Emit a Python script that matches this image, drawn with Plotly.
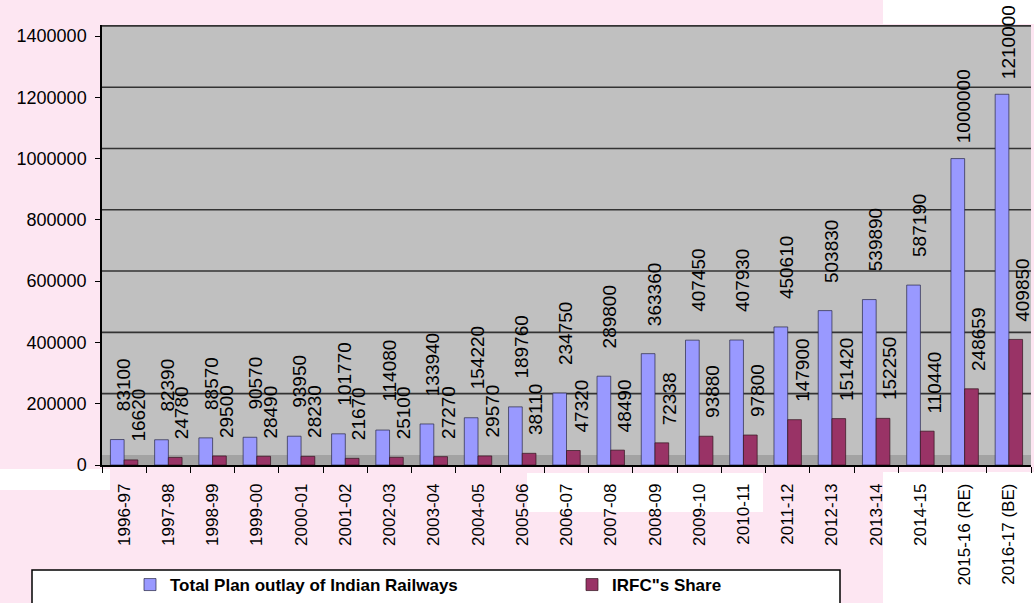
import plotly.graph_objects as go

# Plan outlay of Indian Railways vs IRFC's share (Rs. crore)
years = ["1996-97", "1997-98", "1998-99", "1999-00", "2000-01", "2001-02", "2002-03",
         "2003-04", "2004-05", "2005-06", "2006-07", "2007-08", "2008-09", "2009-10",
         "2010-11", "2011-12", "2012-13", "2013-14", "2014-15", "2015-16 (RE)", "2016-17 (BE)"]
total_outlay = [83100, 82390, 88570, 90570, 93950, 101770, 114080, 133940, 154220, 189760,
                234750, 289800, 363360, 407450, 407930, 450610, 503830, 539890, 587190,
                1000000, 1210000]
irfc_share = [16620, 24780, 29500, 28490, 28230, 21670, 25100, 27270, 29570, 38110,
              47320, 48490, 72338, 93880, 97800, 147900, 151420, 152250, 110440,
              248659, 409850]
y_ticks = [0, 200000, 400000, 600000, 800000, 1000000, 1200000, 1400000]

FONT = "Liberation Sans, Arial, sans-serif"
PINK = "#fde6f2"
BLUE = "#9999ff"
PLUM = "#993366"

W, H = 1034, 603
L, R, T, B = 102, 3, 25, 138
pw, ph = W - L - R, H - T - B


def px_x(p):
    return (p - L) / pw


def px_y(p):
    return (H - B - p) / ph


fig = go.Figure()
fig.add_trace(go.Bar(
    x=years, y=total_outlay, name="Total Plan outlay of Indian Railways",
    marker=dict(color=BLUE, line=dict(color="rgba(40,40,70,0.7)", width=1)),
))
fig.add_trace(go.Bar(
    x=years, y=irfc_share, name="IRFC\"s Share",
    marker=dict(color=PLUM, line=dict(color="rgba(50,20,30,0.7)", width=1)),
))

# value labels, rotated, floating above each bar;
# the tallest bars keep their labels closer so they stay on the page
annotations = []
for yr, tv, iv in zip(years, total_outlay, irfc_share):
    annotations.append(dict(x=yr, y=tv, text=str(tv), textangle=-90, showarrow=False,
                            xanchor="center", yanchor="bottom", xshift=-1,
                            yshift=26 if tv < 900000 else 13,
                            font=dict(family=FONT, size=19, color="black")))
    annotations.append(dict(x=yr, y=iv, text=str(iv), textangle=-90, showarrow=False,
                            xanchor="center", yanchor="bottom", xshift=14, yshift=16,
                            font=dict(family=FONT, size=19, color="black")))

# back wall of the 3-D look: floor band and raised gridlines
wall_lift = 33000
shapes = [dict(type="rect", xref="x domain", yref="y", x0=0, x1=1, y0=0, y1=wall_lift,
               fillcolor="#a3a3a3", line=dict(width=0), layer="below")]
for v in y_ticks[1:]:
    shapes.append(dict(type="line", xref="x domain", yref="y", x0=0, x1=1,
                       y0=v + wall_lift, y1=v + wall_lift,
                       line=dict(color="#333333", width=1.6), layer="below"))

# white patches of the page around the chart
for x0, x1, y0, y1 in [(883, W, 0, 24), (883, W, 472, H), (0, 110, 469, 490),
                       (527, 763, 473, 512)]:
    shapes.append(dict(type="rect", xref="paper", yref="paper",
                       x0=px_x(x0), x1=px_x(x1), y0=px_y(y1), y1=px_y(y0),
                       fillcolor="white", line=dict(width=0), layer="below"))

# legend frame
shapes.append(dict(type="rect", xref="paper", yref="paper",
                   x0=px_x(32), x1=px_x(840), y0=px_y(615), y1=px_y(570),
                   fillcolor="white", line=dict(color="black", width=1.5), layer="above"))

fig.update_layout(
    width=W, height=H, autosize=False,
    margin=dict(l=L, r=R, t=T, b=B, pad=0, autoexpand=False),
    paper_bgcolor=PINK, plot_bgcolor="#c0c0c0",
    barmode="group", bargap=0.38, bargroupgap=0,
    font=dict(family=FONT, size=17, color="black"),
    showlegend=True,
    legend=dict(orientation="h", x=px_x(130), y=px_y(567), xanchor="left", yanchor="top",
                bgcolor="rgba(0,0,0,0)", borderwidth=0,
                font=dict(family=FONT, size=17, color="black", weight="bold"),
                entrywidth=397, entrywidthmode="pixels", itemwidth=30),
    annotations=annotations,
    shapes=shapes,
    xaxis=dict(type="category", tickangle=-90, ticks="outside", tickson="boundaries",
               ticklen=6, tickcolor="black", showline=True, linecolor="black", linewidth=1.5,
               showgrid=False, range=[-0.5, len(years) - 0.5], automargin=False,
               ticklabelstandoff=10,
               tickfont=dict(family=FONT, size=17, color="black")),
    yaxis=dict(range=[0, 1436000], tickvals=y_ticks, tickformat="d", ticks="outside",
               ticklen=5, tickcolor="black", showline=True, linecolor="black", linewidth=1.5,
               showgrid=False, zeroline=False, automargin=False, ticklabelstandoff=5,
               tickfont=dict(family=FONT, size=18, color="black")),
)

fig.write_html("out.html")
